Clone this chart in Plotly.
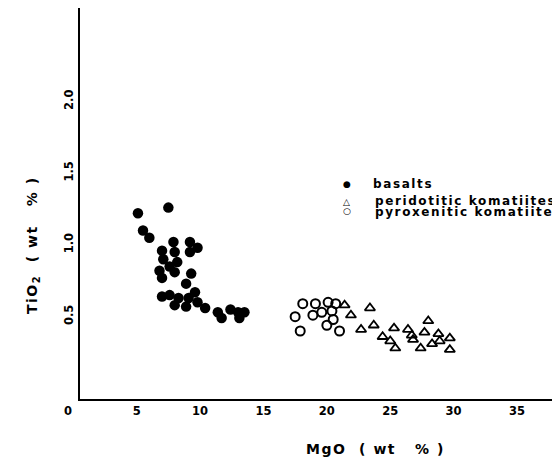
import plotly.graph_objects as go

# ---- data ----
basalt_mgo = [5.1, 7.5, 5.5, 6.0, 7.9, 9.2, 9.8, 9.2, 7.0, 8.0, 7.1, 8.2, 6.8, 7.6, 8.0,
              7.0, 9.3, 8.9, 9.6, 7.0, 7.6, 8.3, 8.0, 8.9, 9.8, 10.4, 11.4, 11.7, 12.4,
              13.0, 13.5, 13.1, 9.1]
basalt_tio2 = [1.22, 1.26, 1.10, 1.05, 1.02, 1.02, 0.98, 0.95, 0.96, 0.95, 0.90, 0.88, 0.82,
               0.85, 0.81, 0.77, 0.80, 0.73, 0.67, 0.64, 0.65, 0.63, 0.58, 0.57, 0.60, 0.56,
               0.53, 0.49, 0.55, 0.53, 0.53, 0.49, 0.63]

perid_mgo = [21.4, 21.9, 23.4, 22.7, 23.7, 25.3, 24.4, 25.0, 25.4, 26.4, 26.7, 26.8, 28.0,
             27.7, 27.4, 28.8, 28.3, 28.9, 29.7, 29.7]
perid_tio2 = [0.58, 0.51, 0.56, 0.41, 0.44, 0.42, 0.36, 0.33, 0.28, 0.41, 0.37, 0.34, 0.47,
              0.39, 0.28, 0.38, 0.31, 0.33, 0.35, 0.27]

pyrox_mgo = [18.1, 19.1, 20.1, 20.7, 17.5, 18.9, 19.6, 20.4, 20.5, 20.0, 17.9, 21.0]
pyrox_tio2 = [0.59, 0.59, 0.60, 0.59, 0.50, 0.51, 0.53, 0.54, 0.48, 0.44, 0.40, 0.40]

x_ticks = [5, 10, 15, 20, 25, 30, 35]
y_ticks = [0.5, 1.0, 1.5, 2.0]
y_ticktext = ["0.5", "1.0", "1.5", "2.0"]

series_names = ["basalts", "peridotitic komatiites", "pyroxenitic komatiites"]

FONT = "DejaVu Sans"

fig = go.Figure()
fig.add_trace(go.Scatter(x=basalt_mgo, y=basalt_tio2, mode="markers", name=series_names[0],
                         marker=dict(symbol="circle", size=10.5, color="black",
                                     line=dict(width=0))))
fig.add_trace(go.Scatter(x=perid_mgo, y=perid_tio2, mode="markers", name=series_names[1],
                         marker=dict(symbol="triangle-up-open", size=9, color="black",
                                     line=dict(width=1.8, color="black"))))
fig.add_trace(go.Scatter(x=pyrox_mgo, y=pyrox_tio2, mode="markers", name=series_names[2],
                         marker=dict(symbol="circle-open", size=9, color="black",
                                     line=dict(width=2, color="black"))))

annotations = []
# corner "0"
annotations.append(dict(text="<b>0</b>", xref="paper", yref="paper", x=-0.0254, y=-0.030,
                        xanchor="center", yanchor="middle", showarrow=False,
                        font=dict(family=FONT, size=11.5, color="black")))
# axis titles
annotations.append(dict(text="<b><span style='letter-spacing:1.5px'>MgO  ( wt   % )</span></b>",
                        xref="paper", yref="paper",
                        x=(375 - 80) / 472, y=(399 - 449) / 391,
                        xanchor="center", yanchor="middle", showarrow=False,
                        font=dict(family=FONT, size=14, color="black")))
annotations.append(dict(text="<b><span style='letter-spacing:1.5px'>TiO<sub>2</sub>  ( wt   % )</span></b>",
                        xref="paper", yref="paper",
                        x=(33 - 80) / 472, y=(399 - 245) / 391, textangle=-90,
                        xanchor="center", yanchor="middle", showarrow=False,
                        font=dict(family=FONT, size=14, color="black")))
# manual legend
legend_glyphs = ["●", "△", "○"]
glyph_y = [184, 201.5, 210.5]
text_y = [183.5, 200.5, 211.5]
text_x = [370.5, 373, 373]
for g, gy, name, ty, tx in zip(legend_glyphs, glyph_y, series_names, text_y, text_x):
    annotations.append(dict(text=g, xref="paper", yref="paper",
                            x=(346.7 - 80) / 472, y=(399 - gy) / 391,
                            xanchor="center", yanchor="middle", showarrow=False,
                            font=dict(family=FONT, size=9, color="black")))
    annotations.append(dict(text="<b><span style='letter-spacing:1.6px'>" + name + "</span></b>",
                            xref="paper", yref="paper",
                            x=(tx - 80) / 472, y=(399 - ty) / 391,
                            xanchor="left", yanchor="middle", showarrow=False,
                            font=dict(family=FONT, size=12, color="black")))

fig.update_layout(
    width=552, height=463,
    margin=dict(l=80, r=0, t=8, b=64),
    paper_bgcolor="white", plot_bgcolor="white",
    showlegend=False,
    font=dict(family=FONT, color="black"),
    annotations=annotations,
    xaxis=dict(range=[0.53, 37.76], showgrid=False, zeroline=False, showline=True,
               linecolor="black", linewidth=2, ticks="", tickvals=x_ticks,
               ticktext=["<b>%d</b>" % v for v in x_ticks],
               tickfont=dict(family=FONT, size=11.5, color="black")),
    yaxis=dict(range=[-0.074, 2.651], showgrid=False, zeroline=False, showline=True,
               linecolor="black", linewidth=2, ticks="", tickvals=y_ticks,
               ticktext=["<b>%s</b>" % t for t in y_ticktext], tickangle=-90,
               tickfont=dict(family=FONT, size=11.5, color="black")),
)

fig.write_html("out.html", config={"displayModeBar": False},
               post_script="document.body.style.margin='0px';document.body.style.overflow='hidden';")
